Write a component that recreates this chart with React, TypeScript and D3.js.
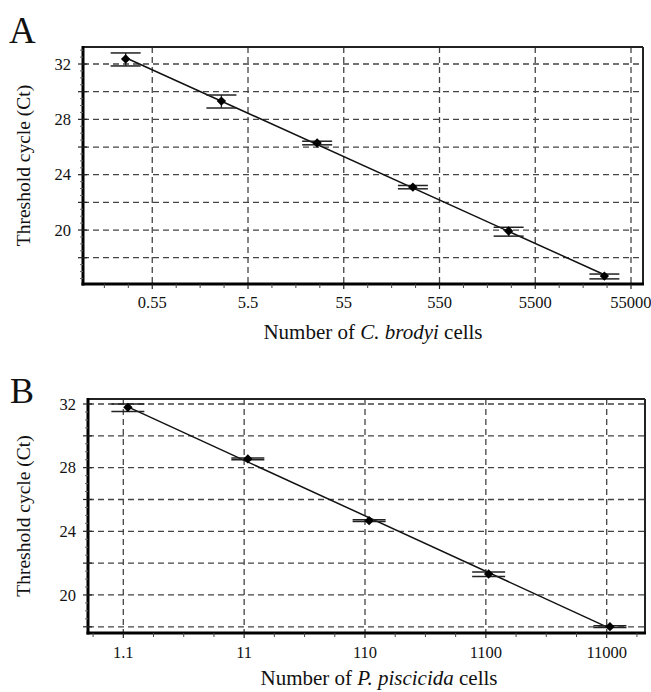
import React from "react";
import * as d3 from "d3";

// ---------- Data ----------
// Panel A: C. brodyi
const cellsA = [0.29, 2.9, 29, 290, 2900, 29000];
const ctA = [32.36, 29.32, 26.29, 23.1, 19.93, 16.67];
const ctHiA = [32.8, 29.76, 26.42, 23.22, 20.2, 16.82];
const ctLoA = [31.86, 28.82, 26.16, 22.98, 19.56, 16.47];
const xTicksA = [0.55, 5.5, 55, 550, 5500, 55000];
const xTickLabelsA = ["0.55", "5.5", "55", "550", "5500", "55000"];

// Panel B: P. piscicida
const cellsB = [1.2, 11.8, 119, 1160, 11700];
const ctB = [31.79, 28.55, 24.67, 21.32, 18.01];
const ctHiB = [32.0, 28.6, 24.72, 21.44, 18.06];
const ctLoB = [31.53, 28.5, 24.62, 21.16, 17.96];
const xTicksB = [1.1, 11, 110, 1100, 11000];
const xTickLabelsB = ["1.1", "11", "110", "1100", "11000"];

const yTicks = [20, 24, 28, 32];
const yGrid = [18, 20, 22, 24, 26, 28, 30, 32];

const FONT = "'Liberation Serif', 'Times New Roman', serif";

type PanelProps = {
  letter: string;
  cells: number[];
  ct: number[];
  hi: number[];
  lo: number[];
  xTicks: number[];
  xLabels: string[];
  xDomain: [number, number];
  yDomain: [number, number];
  box: { left: number; top: number; right: number; bottom: number };
  letterPos: [number, number];
  letterSize: number;
  yLabelX: number;
  tickLabelY: number;
  titleY: number;
  titleX: number;
  species: string;
  capW: number;
};

function Panel(p: PanelProps) {
  const { box } = p;
  const x = d3.scaleLog().domain(p.xDomain).range([box.left, box.right]);
  const y = d3.scaleLinear().domain(p.yDomain).range([box.bottom, box.top]);

  const base = p.xTicks[0];
  const lo0 = Math.log10(p.xDomain[0]);
  const hi0 = Math.log10(p.xDomain[1]);
  const minorX: number[] = [];
  for (let k = -12; k < 40; k++) {
    const lv = Math.log10(base) + k / 4;
    if (lv > lo0 + 0.01 && lv < hi0 - 0.01 && k % 4 !== 0) minorX.push(Math.pow(10, lv));
  }
  const minorY: number[] = [];
  for (let v = Math.ceil(p.yDomain[0] * 2) / 2; v <= p.yDomain[1]; v += 0.5) {
    if (v % 2 !== 0) minorY.push(v);
  }
  const yGridIn = yGrid.filter((v) => v > p.yDomain[0] && v < p.yDomain[1]);

  // least-squares fit of ct vs log10(cells)
  const lx = p.cells.map((c) => Math.log10(c));
  const mx = d3.mean(lx) as number;
  const my = d3.mean(p.ct) as number;
  let sxy = 0, sxx = 0;
  lx.forEach((v, i) => { sxy += (v - mx) * (p.ct[i] - my); sxx += (v - mx) * (v - mx); });
  const slope = sxy / sxx;
  const icpt = my - slope * mx;
  const fit = (c: number) => icpt + slope * Math.log10(c);
  const x0 = p.cells[0], x1 = p.cells[p.cells.length - 1];

  const diamond = d3.symbol().type(d3.symbolSquare).size(44)() as string;

  return (
    <g>
      <text x={p.letterPos[0]} y={p.letterPos[1]} fontFamily={FONT} fontSize={p.letterSize} fill="#111">
        {p.letter}
      </text>
      {yGridIn.map((v) => (
        <line key={"gy" + v} x1={box.left} x2={box.right} y1={y(v)} y2={y(v)}
          stroke="#444" strokeWidth={1.3} strokeDasharray="6,4" />
      ))}
      {p.xTicks.map((v) => (
        <line key={"gx" + v} x1={x(v)} x2={x(v)} y1={box.top} y2={box.bottom}
          stroke="#444" strokeWidth={1.3} strokeDasharray="6,4" />
      ))}
      <line x1={box.left} x2={box.right} y1={box.top} y2={box.top} stroke="#222" strokeWidth={2} />
      <line x1={box.right} x2={box.right} y1={box.top} y2={box.bottom} stroke="#222" strokeWidth={2} />
      <line x1={box.left} x2={box.left} y1={box.top - 1} y2={box.bottom + 1.5} stroke="#000" strokeWidth={3} />
      <line x1={box.left - 1.5} x2={box.right + 1} y1={box.bottom} y2={box.bottom} stroke="#000" strokeWidth={3} />
      {p.xTicks.map((v) => (
        <line key={"tx" + v} x1={x(v)} x2={x(v)} y1={box.bottom} y2={box.bottom + 5} stroke="#222" strokeWidth={1.2} />
      ))}
      {minorX.map((v, i) => (
        <line key={"mx" + i} x1={x(v)} x2={x(v)} y1={box.bottom} y2={box.bottom + 4} stroke="#444" strokeWidth={1} />
      ))}
      {yGridIn.map((v) => (
        <line key={"ty" + v} x1={box.left - 5} x2={box.left + 4} y1={y(v)} y2={y(v)} stroke="#222" strokeWidth={1.2} />
      ))}
      {minorY.map((v, i) => (
        <line key={"my" + i} x1={box.left - 3} x2={box.left} y1={y(v)} y2={y(v)} stroke="#666" strokeWidth={1} />
      ))}
      {p.xTicks.map((v, i) => (
        <text key={"lx" + v} x={x(v)} y={p.tickLabelY} textAnchor="middle" fontFamily={FONT} fontSize={16.5} fill="#111">
          {p.xLabels[i]}
        </text>
      ))}
      {yTicks.map((v) => (
        <text key={"ly" + v} x={p.yLabelX} y={y(v)} dy="0.35em" textAnchor="end" fontFamily={FONT} fontSize={16.5} fill="#111">
          {v}
        </text>
      ))}
      <text transform={`translate(${23},${(box.top + box.bottom) / 2}) rotate(-90)`} dy="0.35em" textAnchor="middle"
        fontFamily={FONT} fontSize={19.5} fill="#111">
        Threshold cycle (Ct)
      </text>
      <text x={p.titleX} y={p.titleY} textAnchor="middle" fontFamily={FONT} fontSize={21} fill="#111">
        Number of <tspan fontStyle="italic">{p.species}</tspan> cells
      </text>
      <line x1={x(x0)} y1={y(fit(x0))} x2={x(x1)} y2={y(fit(x1))} stroke="#111" strokeWidth={1.5} />
      {p.cells.map((c, i) => {
        const cx = x(c);
        return (
          <g key={"pt" + i}>
            <line x1={cx} x2={cx} y1={y(p.hi[i])} y2={y(p.lo[i])} stroke="#222" strokeWidth={1.3} />
            <line x1={cx - p.capW / 2} x2={cx + p.capW / 2} y1={y(p.hi[i])} y2={y(p.hi[i])} stroke="#222" strokeWidth={1.5} />
            <line x1={cx - p.capW / 2} x2={cx + p.capW / 2} y1={y(p.lo[i])} y2={y(p.lo[i])} stroke="#222" strokeWidth={1.5} />
            <path d={diamond} transform={`translate(${cx},${y(p.ct[i])}) rotate(45)`} fill="#000" />
          </g>
        );
      })}
    </g>
  );
}

export default function App() {
  return (
    <svg width={651} height={692} style={{ position: "absolute", left: 0, top: 0, background: "#fff" }}>
      <rect x={0} y={0} width={651} height={692} fill="#fff" />
      <Panel
        letter="A"
        cells={cellsA}
        ct={ctA}
        hi={ctHiA}
        lo={ctLoA}
        xTicks={xTicksA}
        xLabels={xTickLabelsA}
        xDomain={[0.104, 73400]}
        yDomain={[16.1, 33.23]}
        box={{ left: 83, top: 47, right: 643, bottom: 284 }}
        letterPos={[9, 43]}
        letterSize={37}
        yLabelX={71}
        tickLabelY={308}
        titleX={373}
        titleY={339}
        species="C. brodyi"
        capW={30}
      />
      <Panel
        letter="B"
        cells={cellsB}
        ct={ctB}
        hi={ctHiB}
        lo={ctLoB}
        xTicks={xTicksB}
        xLabels={xTickLabelsB}
        xDomain={[0.5614, 22820]}
        yDomain={[17.61, 32.314]}
        box={{ left: 88, top: 399, right: 645, bottom: 633 }}
        letterPos={[10, 403]}
        letterSize={36}
        yLabelX={76}
        tickLabelY={658}
        titleX={379}
        titleY={685}
        species="P. piscicida"
        capW={33}
      />
    </svg>
  );
}
